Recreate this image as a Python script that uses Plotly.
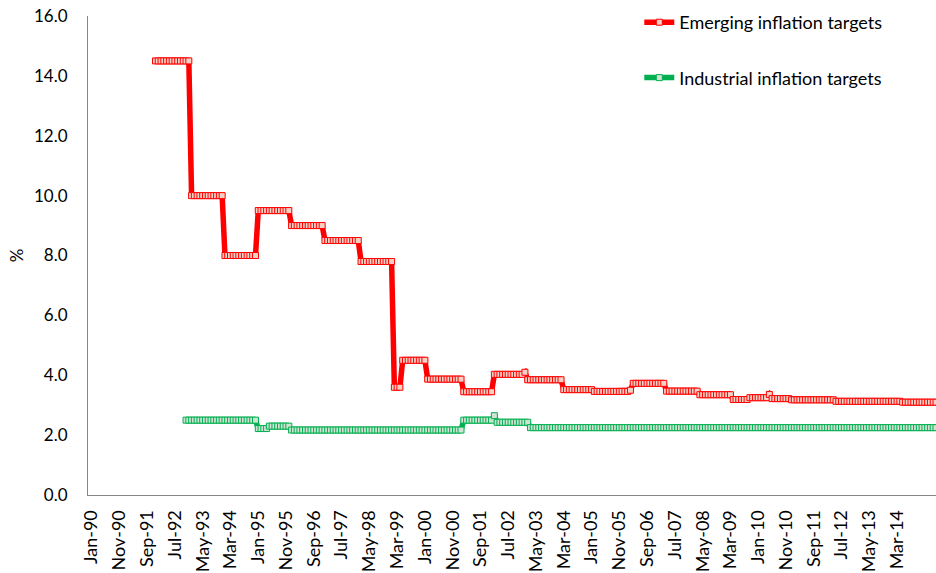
import plotly.graph_objects as go

# ---- data (monthly, Jan-90 = month 0) ----
tick_labels = ["Jan-90", "Nov-90", "Sep-91", "Jul-92", "May-93", "Mar-94", "Jan-95", "Nov-95",
               "Sep-96", "Jul-97", "May-98", "Mar-99", "Jan-00", "Nov-00", "Sep-01", "Jul-02",
               "May-03", "Mar-04", "Jan-05", "Nov-05", "Sep-06", "Jul-07", "May-08", "Mar-09",
               "Jan-10", "Nov-10", "Sep-11", "Jul-12", "May-13", "Mar-14"]
y_ticks = [0, 2, 4, 6, 8, 10, 12, 14, 16]

# month index at which each target level begins, and the level
emerging_start = [23, 36, 48, 60, 72, 84, 97, 109, 112, 121, 134, 145, 156, 157, 170, 181,
                  194, 195, 207, 219, 231, 237, 244, 245, 252, 268, 292]
emerging_level = [14.5, 10.0, 8.0, 9.5, 9.0, 8.5, 7.8, 3.6, 4.5, 3.87, 3.45, 4.03, 4.1, 3.85,
                  3.52, 3.46, 3.5, 3.73, 3.47, 3.35, 3.19, 3.25, 3.36, 3.22, 3.18, 3.13, 3.1]

industrial_start = [34, 60, 64, 72, 134, 145, 146, 158]
industrial_level = [2.5, 2.22, 2.3, 2.17, 2.5, 2.65, 2.43, 2.25]

last_month = 305


def expand(starts, levels, end):
    xs, ys = [], []
    for i, s in enumerate(starts):
        e = starts[i + 1] if i + 1 < len(starts) else end
        for m in range(s, e):
            xs.append(m)
            ys.append(levels[i])
    return xs, ys


ex, ey = expand(emerging_start, emerging_level, last_month)
ix, iy = expand(industrial_start, industrial_level, last_month)

FONT = "Lato, 'Open Sans', sans-serif"
RED = "#FF0000"
GREEN = "#00B050"

fig = go.Figure()
fig.add_trace(go.Scatter(
    x=ex, y=ey, mode="lines+markers", name="Emerging inflation targets",
    legendgroup="a",
    line=dict(color=RED, width=5.5),
    marker=dict(symbol="square", size=6, color="#F3CFC4", line=dict(color=RED, width=1)),
    hoverinfo="skip"))
fig.add_trace(go.Scatter(
    x=ix, y=iy, mode="lines+markers", name="Industrial inflation targets",
    legendgroup="b",
    line=dict(color=GREEN, width=5.5),
    marker=dict(symbol="square", size=6, color="#CFE3D3", line=dict(color=GREEN, width=1)),
    hoverinfo="skip"))

fig.update_layout(
    width=936, height=573,
    margin=dict(l=88, r=0, t=16, b=78, autoexpand=False),
    paper_bgcolor="white", plot_bgcolor="white",
    font=dict(family=FONT, size=16, color="#000000"),
    showlegend=True,
    hovermode=False,
    legend=dict(x=0.683, y=0.993, xref="container", yref="container",
                xanchor="left", yanchor="top",
                bgcolor="rgba(0,0,0,0)", tracegroupgap=29,
                font=dict(family=FONT, size=18, color="#000000"),
                itemwidth=30),
    xaxis=dict(range=[-1.3, 304], tickmode="array",
               tickvals=[i * 10 for i in range(len(tick_labels))],
               ticktext=tick_labels, tickangle=-90,
               showline=True, linecolor="#868686", linewidth=1,
               showgrid=False, zeroline=False, ticks="",
               ticklabelstandoff=7, automargin=False,
               tickfont=dict(family=FONT, size=18, color="#000000")),
    yaxis=dict(range=[0, 16], tickmode="array", tickvals=y_ticks,
               ticktext=[f"{v:.1f}" for v in y_ticks],
               showline=True, linecolor="#868686", linewidth=1,
               showgrid=False, zeroline=False, ticks="",
               ticklabelstandoff=16, automargin=False,
               ticklabeloverflow="allow",
               title=dict(text="%", standoff=6, font=dict(family=FONT, size=17)),
               tickfont=dict(family=FONT, size=17, color="#000000")),
)

fig.write_html("out.html", config={"displayModeBar": False},
               post_script="document.body.style.margin='0px';")
